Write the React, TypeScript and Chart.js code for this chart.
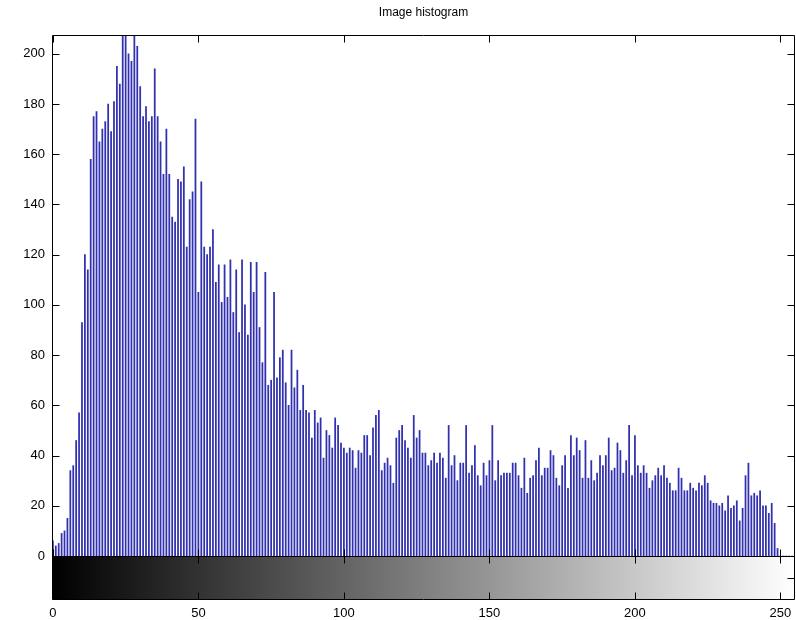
import React, { useEffect, useRef } from 'react';
import { Chart, registerables } from 'chart.js';

Chart.register(...registerables);

const chartTitle = 'Image histogram';

// gray levels 0..255 (categories of the histogram)
const grayLevels: number[] = [];
for (let i = 0; i < 256; i++) grayLevels.push(i);

// pixel counts per gray level
const counts: number[] = [
  6, 4, 5, 9, 10, 15, 34, 36, 46, 57,
  93, 120, 114, 158, 175, 177, 165, 170, 173, 180,
  169, 181, 195, 188, 212, 212, 200, 197, 212, 203,
  187, 175, 179, 173, 175, 194, 175, 165, 152, 170,
  152, 135, 133, 150, 149, 155, 123, 142, 145, 174,
  105, 149, 123, 120, 123, 130, 109, 116, 101, 116,
  103, 118, 97, 114, 89, 118, 100, 88, 117, 105,
  117, 91, 77, 113, 68, 70, 105, 71, 79, 82,
  69, 60, 82, 67, 74, 58, 68, 58, 57, 47,
  58, 53, 55, 39, 50, 48, 43, 55, 52, 45,
  43, 41, 43, 42, 35, 42, 41, 48, 48, 40,
  51, 56, 58, 34, 37, 39, 36, 29, 47, 50,
  52, 46, 43, 39, 56, 47, 50, 41, 41, 36,
  38, 41, 37, 41, 39, 31, 52, 36, 40, 30,
  37, 37, 52, 33, 36, 44, 32, 28, 37, 32,
  38, 52, 30, 38, 32, 33, 33, 33, 37, 37,
  32, 27, 39, 25, 31, 32, 38, 43, 32, 35,
  35, 42, 40, 31, 28, 36, 40, 27, 48, 40,
  47, 42, 31, 46, 31, 38, 30, 33, 40, 36,
  40, 47, 34, 35, 45, 42, 33, 38, 52, 32,
  48, 36, 33, 36, 33, 27, 30, 32, 35, 32,
  36, 31, 29, 26, 26, 35, 31, 26, 26, 29,
  27, 26, 29, 28, 32, 29, 22, 21, 21, 20,
  21, 18, 24, 19, 20, 22, 14, 19, 32, 37,
  24, 25, 24, 26, 20, 20, 17, 21, 13, 3,
  0, 0, 0, 0, 0, 0,
];

const xTicks: number[] = [0, 50, 100, 150, 200, 250];
const yTicks: number[] = [0, 20, 40, 60, 80, 100, 120, 140, 160, 180, 200];

const FONT = 'Liberation Sans, Arial, Helvetica, sans-serif';

const matlabAxes = {
  id: 'matlabAxes',
  afterDraw(chart: any) {
    const { ctx, chartArea, scales } = chart;
    const xs = scales.x;
    const ys = scales.y;
    const L = Math.round(chartArea.left) + 0.5;
    const R = Math.round(chartArea.right) - 0.5;
    const T = Math.round(chartArea.top) + 0.5;
    const B = Math.round(chartArea.bottom) + 0.5;
    const cbTop = B;
    const cbBottom = B + 43;
    const tl = 7;
    ctx.save();
    // gray-level colour bar below the histogram
    const g = ctx.createLinearGradient(xs.getPixelForValue(0), 0, xs.getPixelForValue(255), 0);
    g.addColorStop(0, '#000000');
    g.addColorStop(1, '#ffffff');
    ctx.fillStyle = g;
    ctx.fillRect(L, cbTop, R - L, cbBottom - cbTop);

    ctx.strokeStyle = '#000000';
    ctx.lineWidth = 1;
    ctx.beginPath();
    ctx.rect(L, T, R - L, B - T);
    ctx.rect(L, cbTop, R - L, cbBottom - cbTop);
    xTicks.forEach((v) => {
      const px = Math.round(xs.getPixelForValue(v)) + 0.5;
      ctx.moveTo(px, T); ctx.lineTo(px, T + tl);
      ctx.moveTo(px, B); ctx.lineTo(px, B - tl);
      ctx.moveTo(px, cbTop); ctx.lineTo(px, cbTop + tl);
      ctx.moveTo(px, cbBottom); ctx.lineTo(px, cbBottom - tl);
    });
    yTicks.forEach((v) => {
      const py = Math.round(ys.getPixelForValue(v)) + 0.5;
      ctx.moveTo(L, py); ctx.lineTo(L + tl, py);
      ctx.moveTo(R, py); ctx.lineTo(R - tl, py);
    });
    const mid = Math.round((cbTop + cbBottom) / 2) + 0.5;
    ctx.moveTo(L, mid); ctx.lineTo(L + tl, mid);
    ctx.moveTo(R, mid); ctx.lineTo(R - tl, mid);
    ctx.stroke();
    ctx.restore();
  },
};

export default function App() {
  const ref = useRef<HTMLCanvasElement | null>(null);

  useEffect(() => {
    if (!ref.current) return;
    const chart = new Chart(ref.current, {
      type: 'bar',
      data: {
        datasets: [
          {
            label: 'count',
            data: counts.map((c, i) => ({ x: grayLevels[i], y: c })),
            backgroundColor: '#3030b0',
            borderWidth: 0,
            barThickness: 1.1,
          },
        ],
      },
      options: {
        animation: false,
        responsive: false,
        devicePixelRatio: 1,
        layout: { padding: { left: 0, right: 1, top: 0, bottom: 0 } },
        plugins: {
          legend: { display: false },
          tooltip: { enabled: false },
          title: {
            display: true,
            text: chartTitle,
            fullSize: false,
            color: '#000000',
            font: { family: FONT, size: 12, weight: 'normal' },
            padding: { top: 5, bottom: 15.6 },
          },
        },
        scales: {
          x: {
            type: 'linear',
            min: -0.3,
            max: 255,
            offset: false,
            grid: { display: false, drawTicks: false, offset: false },
            border: { display: false },
            afterBuildTicks: (s: any) => {
              s.ticks = xTicks.map((v) => ({ value: v }));
            },
            afterFit: (s: any) => {
              s.height = 64;
              s.paddingLeft = 0;
              s.paddingRight = 0;
            },
            ticks: {
              autoSkip: false,
              maxRotation: 0,
              color: '#000000',
              padding: 50,
              font: { family: FONT, size: 13 },
            },
          },
          y: {
            type: 'linear',
            min: 0,
            max: 207.5,
            grid: { display: false, drawTicks: false },
            border: { display: false },
            afterBuildTicks: (s: any) => {
              s.ticks = yTicks.map((v) => ({ value: v }));
            },
            afterFit: (s: any) => {
              s.width = 52;
              s.paddingTop = 0;
              s.paddingBottom = 0;
            },
            ticks: {
              color: '#000000',
              padding: 7,
              font: { family: FONT, size: 13 },
            },
          },
        },
      },
      plugins: [matlabAxes],
    } as any);
    return () => chart.destroy();
  }, []);

  return (
    <div style={{ position: 'fixed', left: 0, top: 0, width: 796, height: 620, background: '#ffffff' }}>
      <canvas ref={ref} width={796} height={620} style={{ width: 796, height: 620, display: 'block' }} />
    </div>
  );
}
